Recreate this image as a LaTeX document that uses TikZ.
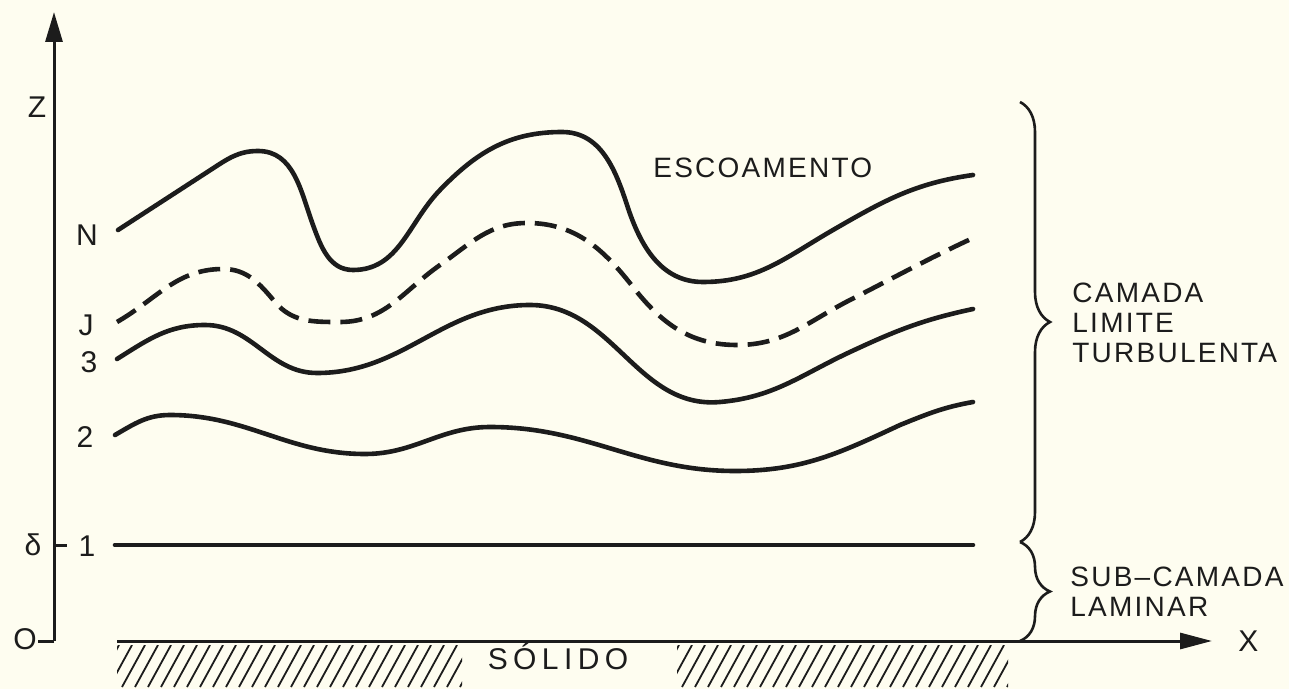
\documentclass[tikz,border=0pt]{standalone}
\usepackage{fontspec}
\setmainfont{Liberation Sans}
\newfontfamily\letreiro[LetterSpace=8]{Liberation Sans}
\newfontfamily\letreirolargo[LetterSpace=18]{Liberation Sans}
\usetikzlibrary{
  arrows.meta,
  decorations.pathreplacing,
  positioning}
\definecolor{papel}{RGB}{254,253,240}
\definecolor{tinta}{RGB}{28,28,28}

\begin{document}
\begin{tikzpicture}[x=0.5pt,y=-0.5pt,
    eixo/.style={tinta,line width=1.5pt},
    curva/.style={tinta,line width=2.3pt,line cap=round,line join=round},
    tracejada/.style={curva,line cap=butt,dash pattern=on 11pt off 5pt},
    hachura/.style={tinta,line width=0.9pt},
    chave/.style={tinta,line width=1.3pt,decorate,decoration={brace,amplitude=15pt}},
    rotulo/.style={tinta,inner sep=0pt,font=\fontsize{15}{15}\selectfont},
    legenda/.style={tinta,inner sep=0pt,anchor=west,align=left,font=\letreiro\fontsize{14}{15}\selectfont}]
        \useasboundingbox[fill=papel] (0,0) rectangle (1289,689);

        \coordinate (origem) at (54,641);
        \coordinate (topo) at (54,12);
        \coordinate (xini) at (117,641);
        \coordinate (xfim) at (1212,641);
        \coordinate (delta) at (54,545);

        \draw[eixo,-{Triangle[length=15pt,width=8.5pt]}] (origem) -- (topo);
        \draw[eixo,-{Triangle[length=16pt,width=8pt]}] (xini) -- (xfim);
        \draw[eixo] (origem) -- ++(-16,0);
        \draw[eixo] (delta) -- ++(13,0);

        \node[rotulo] (rotZ) at (37,107) {Z};
        \node[rotulo] (rotN) at (87,235) {N};
        \node[rotulo] (rotJ) at (86,325) {J};
        \node[rotulo] (rot3) at (89,362) {3};
        \node[rotulo] (rot2) at (85,437) {2};
        \node[rotulo] (rotdelta) at (33,545) {δ};
        \node[rotulo] (rot1) at (87,546) {1};
        \node[rotulo] (rotO) at (25,639) {O};
        \node[rotulo,right=13pt of xfim] (rotX) {X};

        \draw[curva] (118,230) to[out=33,in=213] (212,169) to[out=33,in=180] (258,151) to[out=0,in=110] (313,225)
            to[out=-70,in=180] (353,270) to[out=0,in=226] (440,190) to[out=46,in=180] (562,132)
            to[out=0,in=108] (627,205) to[out=-72,in=180] (703,282) to[out=0,in=210] (833,230)
            to[out=30,in=188] (973,175);
        \draw[tracejada] (117,322) to[out=30,in=180] (223,269) to[out=0,in=130] (275,302)
            to[out=-50,in=180] (340,322) to[out=0,in=215] (440,265) to[out=35,in=180] (527,223)
            to[out=0,in=128] (633,287) to[out=-52,in=180] (737,345) to[out=0,in=207] (850,300)
            to[out=27,in=205] (973,238);
        \draw[curva] (117,359) to[out=32,in=180] (205,325) to[out=0,in=180] (317,373)
            to[out=0,in=180] (530,305) to[out=0,in=185] (720,402) to[out=5,in=205] (850,352)
            to[out=25,in=192] (973,309);
        \draw[curva] (115,435) to[out=30,in=180] (170,415) to[out=0,in=180] (365,454)
            to[out=0,in=180] (490,427) to[out=0,in=180] (735,471) to[out=0,in=205] (900,425)
            to[out=22,in=190] (973,402);
        \draw[curva] (115,545) -- (973,545);

        \node[legenda] (escoamento) at (653,168) {ESCOAMENTO};

        \draw[chave] (1020,102) -- (1020,542);
        \draw[chave] (1020,542) -- (1020,641);
        \node[legenda] (camada) at (1072,323) {CAMADA\\LIMITE\\TURBULENTA};
        \node[legenda] (subcamada) at (1070,592) {SUB–CAMADA\\LAMINAR};

        \begin{scope}
            \clip (117,645) rectangle (462,687);
            \foreach \i in {0,...,28} {
                \draw[hachura] (96+\i*13,687)--++(23,-42);
            }
        \end{scope}
        \begin{scope}
            \clip (677,645) rectangle (1008,687);
            \foreach \i in {0,...,27} {
                \draw[hachura] (656+\i*13,687)--++(23,-42);
            }
        \end{scope}
        \node[tinta,inner sep=0pt,font=\letreirolargo\fontsize{15}{15}\selectfont] (solido) at (558,657) {SÓLIDO};
    \end{tikzpicture}
\end{document}
